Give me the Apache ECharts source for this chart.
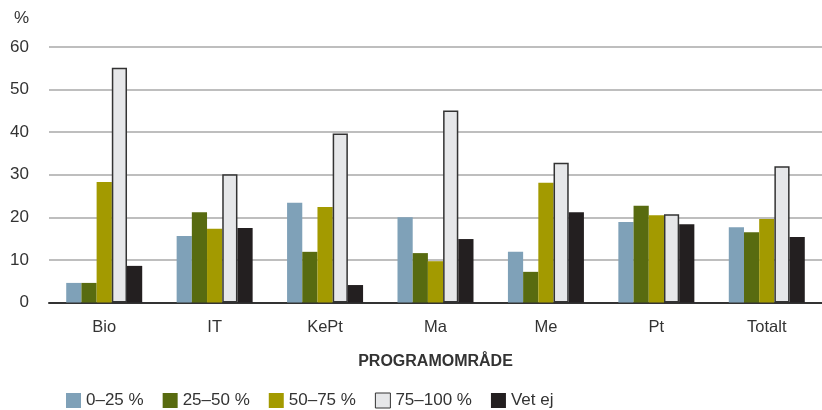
<!DOCTYPE html>
<html>
<head>
<meta charset="utf-8">
<script src="https://cdn.jsdelivr.net/npm/echarts@6/dist/echarts.min.js"></script>
<style>
html, body { margin: 0; padding: 0; background: #fff; }
#chart { width: 822px; height: 410px; }
</style>
</head>
<body>
<div id="chart"></div>
<script>
// data
var categories = ['Bio', 'IT', 'KePt', 'Ma', 'Me', 'Pt', 'Totalt'];
var seriesNames = ['0–25 %', '25–50 %', '50–75 %', '75–100 %', 'Vet ej'];
var q0_25 = [4.6, 15.6, 23.4, 20.0, 11.9, 18.9, 17.7];
var q25_50 = [4.6, 21.2, 11.9, 11.6, 7.2, 22.7, 16.5];
var q50_75 = [28.3, 17.3, 22.4, 9.7, 28.1, 20.5, 19.6];
var q75_100 = [55.1, 30.1, 39.7, 45.1, 32.8, 20.7, 32.0];
var vetEj = [8.6, 17.5, 4.1, 14.9, 21.2, 18.4, 15.4];
var yTicks = [0, 10, 20, 30, 40, 50, 60];

var colors = ['#7fa1b8', '#586b10', '#a39a00', '#e6e7e9', '#231f20'];
var font = 'Liberation Sans, Arial, sans-serif';

var chart = echarts.init(document.getElementById('chart'));

var values = [q0_25, q25_50, q50_75, q75_100, vetEj];
var series = [];
for (var i = 0; i < values.length; i++) {
    var s = {
        name: seriesNames[i],
        type: 'bar',
        data: values[i],
        barWidth: 15.2,
        barGap: '0%',
        itemStyle: { color: colors[i] },
        emphasis: { disabled: true }
    };
    if (i == 3) {
        s.itemStyle.borderColor = '#333';
        s.itemStyle.borderWidth = 1.5;
    }
    series.push(s);
}

var option = {
    animation: false,
    color: colors,
    textStyle: { fontFamily: font },
    grid: {
        left: 49,
        top: 47,
        width: 780,
        height: 255.5
    },
    legend: {
        data: seriesNames.map(function (n, i) {
            return i == 3 ? { name: n, itemStyle: { borderColor: '#333', borderWidth: 1 } } : { name: n };
        }),
        left: 61,
        top: 387,
        itemWidth: 15,
        itemHeight: 15,
        itemGap: 19,
        icon: 'rect',
        textStyle: { fontSize: 17, color: '#333', fontFamily: font, padding: [0, 0, 0, 0] }
    },
    xAxis: {
        type: 'category',
        data: categories,
        name: 'PROGRAMOMRÅDE',
        nameLocation: 'middle',
        nameGap: 51,
        nameTextStyle: { fontSize: 16, fontWeight: 'bold', color: '#333', fontFamily: font },
        axisLine: { lineStyle: { color: '#333', width: 2 } },
        axisTick: { show: false },
        axisLabel: { fontSize: 16.5, color: '#333', margin: 16 }
    },
    yAxis: {
        type: 'value',
        min: yTicks[0],
        max: yTicks[yTicks.length - 1],
        interval: 10,
        name: '%',
        nameLocation: 'end',
        nameGap: 20,
        nameTextStyle: { fontSize: 17, color: '#333', align: 'right', padding: [0, 20, 0, 0] },
        axisLine: { show: false },
        axisTick: { show: false },
        axisLabel: { fontSize: 17, color: '#333', margin: 20 },
        splitLine: { lineStyle: { color: '#a8a8a8', width: 1.5 } }
    },
    series: series
};
chart.setOption(option);
</script>
</body>
</html>
